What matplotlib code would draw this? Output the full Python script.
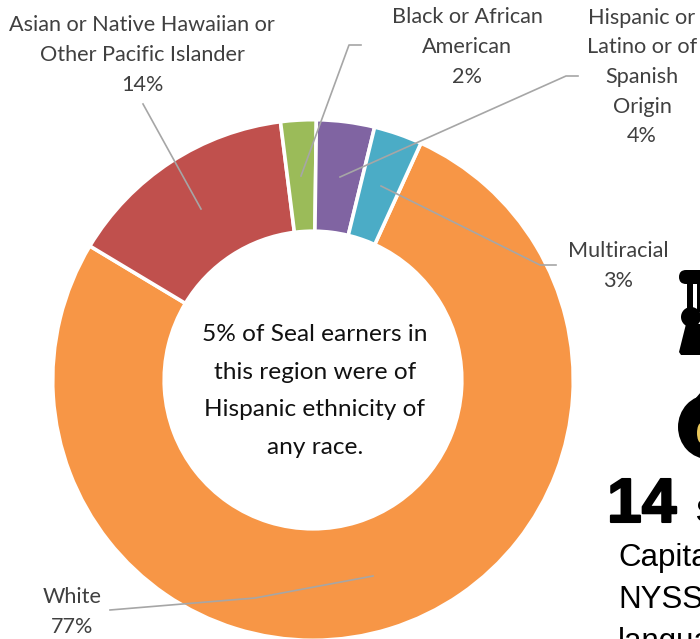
#!/usr/bin/python3
import matplotlib
matplotlib.use('Agg')
import matplotlib.pyplot as plt
import matplotlib.patheffects as pe
from matplotlib.patches import Polygon, Ellipse, FancyBboxPatch

W, H = 700, 639

# data, clockwise from white
names = ['White', 'Asian or Native Hawaiian or\nOther Pacific Islander', 'Black or African\nAmerican',
         'Hispanic or\nLatino or of\nSpanish\nOrigin', 'Multiracial']
values = [76.8, 14.4, 2.2, 3.6, 3.0]
shown = [77, 14, 2, 4, 3]
colors = ['#F79646', '#C0504D', '#9BBB59', '#8064A2', '#4BACC6']
center_note = '5% of Seal earners in\nthis region were of\nHispanic ethnicity of\nany race.'

plt.rcParams['font.family'] = ['Lato', 'DejaVu Sans']

fig = plt.figure(figsize=(W / 100, H / 100), dpi=100)
ax = fig.add_axes([0, 0, 1, 1])


def py(y):
    # picture rows run downwards
    return H - y


ax.pie(values, colors=colors, startangle=90 - 24.5, counterclock=False,
       center=(313, py(380)), radius=260.3, frame=True,
       wedgeprops=dict(width=111.5, edgecolor='white', linewidth=2.6))
ax.set_xlim(0, W)
ax.set_ylim(0, H)
ax.set_aspect('equal')
ax.axis('off')

# leader lines
leaders = [
    ([373, 255, 110], [576, 598, 610]),
    ([201, 143, 143], [209, 104, 104]),
    ([301, 349, 361], [176, 45, 45]),
    ([340, 566, 578], [177, 76, 76]),
    ([381, 540, 556], [186, 265, 265]),
]
for xs, ys in leaders:
    ax.plot(xs, [py(y) for y in ys], color='#A6A6A6', lw=1.2, solid_joinstyle='round')

# labels
label_pos = [(72, 612), (142, 55), (467, 47), (642, 77), (618, 266)]
for name, val, (x, y) in zip(names, shown, label_pos):
    ax.text(x, py(y), '%s\n%d%%' % (name, val), ha='center', va='center', fontsize=15.6,
            color='#404040', linespacing=1.6)

ax.text(315, py(391), center_note, ha='center', va='center', fontsize=17.6,
        color='#111111', linespacing=1.98)

# cut off icons at the right edge
ax.add_patch(FancyBboxPatch((679, py(284)), 34, 14, boxstyle='round,pad=0,rounding_size=7',
                            fc='black', ec='none'))
ax.add_patch(Polygon([(687, py(282)), (693, py(282)), (693, py(312)), (687, py(312))], fc='black', ec='none'))
ax.add_patch(Polygon([(697, py(282)), (702, py(282)), (702, py(312)), (697, py(312))], fc='black', ec='none'))
ax.add_patch(Ellipse((691, py(317)), 20, 20, fc='black', ec='none'))
ax.add_patch(Polygon([(686, py(324)), (702, py(324)), (702, py(355)), (681, py(355)), (679, py(352))],
                     fc='black', ec='none'))
ax.add_patch(Ellipse((708, py(427)), 60, 64, fc='black', ec='none'))
ax.add_patch(Polygon([(683, py(413)), (701, py(392)), (702, py(420))], fc='black', ec='none'))
ax.add_patch(Ellipse((701, py(433)), 8, 20, fc='#E8C65A', ec='none'))

# cut off text at the right edge
t = ax.text(607, py(522), '14', ha='left', va='baseline', fontsize=45, fontweight='bold',
            family=['Liberation Sans'], color='black', clip_on=True)
t.set_path_effects([pe.withStroke(linewidth=1.5, foreground='black')])
ax.text(695, py(522), 'S', ha='left', va='baseline', fontsize=24, fontweight='bold',
        family=['Liberation Sans'], color='black', clip_on=True)
for txt, y in zip(['Capital', 'NYSS', 'language'], [566, 608, 650]):
    ax.text(618, py(y), txt, ha='left', va='baseline', fontsize=22.5,
            family=['Liberation Sans'], color='black', clip_on=True)

fig.savefig('out.png', dpi=100)
